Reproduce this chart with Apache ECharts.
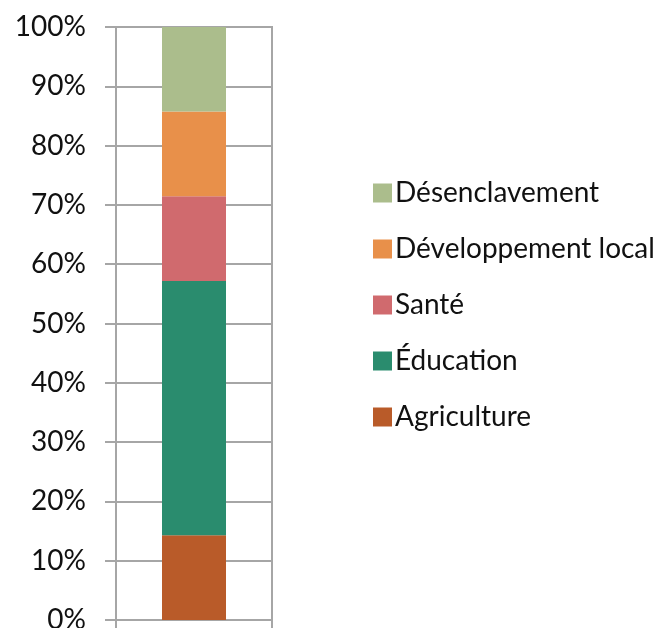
<!DOCTYPE html>
<html>
<head>
<meta charset="utf-8">
<script src="https://cdn.jsdelivr.net/npm/echarts@6/dist/echarts.min.js"></script>
<style>
  html, body { margin: 0; padding: 0; background: #fff; }
  #chart { width: 666px; height: 628px; }
</style>
</head>
<body>
<div id="chart"></div>
<script>
// stacked shares (%) of one bar, bottom to top
const categories = ['']
const seriesNames = ['Agriculture', 'Éducation', 'Santé', 'Développement local', 'Désenclavement']
const seriesValues = [14.29, 42.86, 14.29, 14.29, 14.29]
const seriesColors = ['#b95b29', '#2a8c6e', '#d06a6e', '#e8904a', '#abbd8c']
const legendOrder = ['Désenclavement', 'Développement local', 'Santé', 'Éducation', 'Agriculture']

const gridColor = '#a6a6a6'
const font = 'Lato, "Open Sans", sans-serif'

const chart = echarts.init(document.getElementById('chart'))

const option = {
  animation: false,
  grid: {
    left: 116,
    right: 394,
    top: 27,
    bottom: 8,
    outerBoundsMode: 'none',
    containLabel: false,
    show: true,
    borderColor: gridColor,
    borderWidth: 2
  },
  legend: {
    orient: 'vertical',
    left: 368,
    top: 173,
    data: legendOrder,
    icon: 'rect',
    itemWidth: 19,
    itemHeight: 19,
    itemGap: 26,
    textStyle: {
      fontFamily: font,
      fontSize: 28,
      lineHeight: 30,
      color: '#111',
      padding: [0, 0, 0, -2]
    }
  },
  xAxis: {
    type: 'category',
    data: categories,
    axisLine: { show: true, lineStyle: { color: gridColor, width: 2 } },
    axisTick: { show: true, length: 8, interval: 0, lineStyle: { color: gridColor, width: 2 } },
    axisLabel: { show: false }
  },
  yAxis: {
    type: 'value',
    min: 0,
    max: 100,
    interval: 10,
    axisLine: { show: true, lineStyle: { color: gridColor, width: 2 } },
    axisTick: { show: true, length: 11, lineStyle: { color: gridColor, width: 2 } },
    splitLine: { show: true, lineStyle: { color: gridColor, width: 2 } },
    axisLabel: {
      formatter: '{value}%',
      margin: 30,
      fontFamily: font,
      fontSize: 28,
      color: '#111'
    }
  },
  series: seriesNames.map((name, i) => ({
    name: name,
    type: 'bar',
    stack: 'total',
    barWidth: 64,
    data: [seriesValues[i]],
    itemStyle: { color: seriesColors[i] }
  }))
}

chart.setOption(option)
</script>
</body>
</html>
